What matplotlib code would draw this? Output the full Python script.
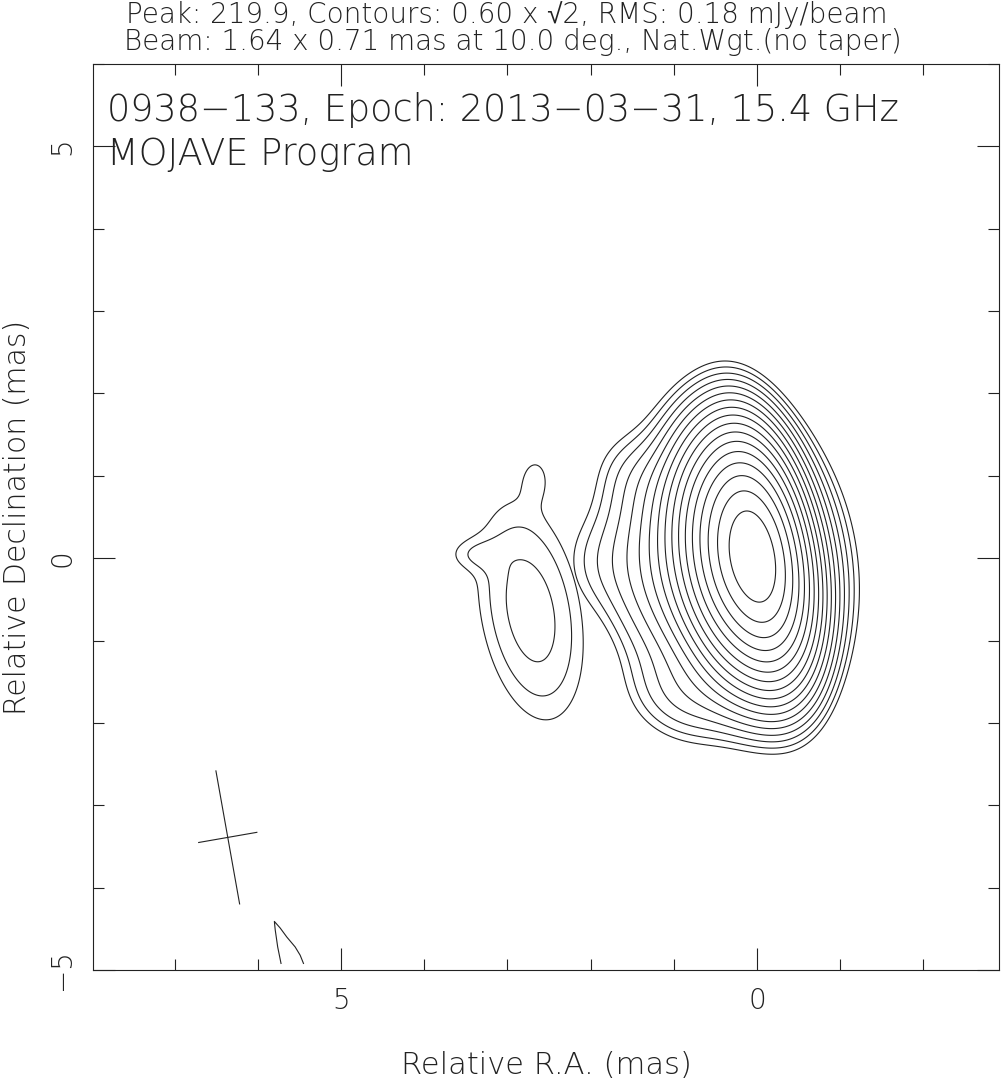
import numpy as np
import matplotlib.pyplot as plt

# core + jet model: elliptical gaussian components (mJy/beam), offsets in mas
core_ra   = [0.00, 0.00, 0.40, 0.95, 1.50, 2.00, 1.45, 0.85]
core_dec  = [0.03, 0.00, -0.05, -0.15, -0.25, -0.10, 1.00, -1.70]
core_peak = [180.0, 10.0, 50.0, 4.5, 1.3, 0.6, 0.5, 1.2]
core_maj  = [0.69, 0.80, 0.72, 0.80, 0.82, 0.45, 0.35, 0.45]
core_min  = [0.29, 0.50, 0.30, 0.32, 0.30, 0.30, 0.30, 0.35]
core_pa   = [10, 10, 10, 10, 10, 10, 40, 70]

# separate knot to the east
knot_ra   = [2.72, 2.65, 3.45]
knot_dec  = [-0.65, 1.00, 0.05]
knot_peak = [1.45, 0.45, 0.45]
knot_maj  = [1.00, 0.22, 0.15]
knot_min  = [0.45, 0.14, 0.25]
knot_pa   = [10, 0, 0]

# contour levels: 0.60 x sqrt(2)^n up to the peak
base_level = 0.60
n_levels = 18

# restoring beam
beam_maj, beam_min, beam_pa = 1.64, 0.71, 10.0
beam_ra, beam_dec = 6.36, -3.39

# stray contour fragment near the bottom edge
arc_ra  = [5.72, 5.76, 5.79, 5.80, 5.73, 5.65, 5.55, 5.49, 5.45]
arc_dec = [-4.92, -4.72, -4.51, -4.41, -4.49, -4.60, -4.72, -4.82, -4.92]

ra = np.linspace(8.2, -3.0, 700)
dec = np.linspace(-5.1, 6.1, 700)
X, Y = np.meshgrid(ra, dec)


def model(cra, cdec, cpk, cmaj, cmin, cpa):
    img = np.zeros_like(X)
    for r0, d0, pk, a, b, pa in zip(cra, cdec, cpk, cmaj, cmin, cpa):
        t = np.radians(pa)
        dx, dy = X - r0, Y - d0
        u = dx * np.sin(t) + dy * np.cos(t)
        v = dx * np.cos(t) - dy * np.sin(t)
        img += pk * np.exp(-0.5 * ((u / a) ** 2 + (v / b) ** 2))
    return img


core_img = model(core_ra, core_dec, core_peak, core_maj, core_min, core_pa)
knot_img = model(knot_ra, knot_dec, knot_peak, knot_maj, knot_min, knot_pa)
levels = base_level * np.sqrt(2) ** np.arange(n_levels)

plt.rcParams['font.family'] = ['DejaVu Sans', 'Liberation Sans']
plt.rcParams['font.weight'] = 'light'
fig = plt.figure(figsize=(10.01, 10.79), dpi=100)
ax = fig.add_axes([0.0929, 0.1010, 0.9051, 0.8397])
ink = '#222222'

ax.contour(X, Y, core_img, levels=levels, colors=ink, linewidths=0.8)
ax.contour(X, Y, knot_img, levels=levels, colors=ink, linewidths=0.8)

# beam cross
t = np.radians(beam_pa)
ax.plot([beam_ra + 0.5 * beam_maj * np.sin(t), beam_ra - 0.5 * beam_maj * np.sin(t)],
        [beam_dec + 0.5 * beam_maj * np.cos(t), beam_dec - 0.5 * beam_maj * np.cos(t)],
        color=ink, lw=0.8)
ax.plot([beam_ra + 0.5 * beam_min * np.cos(t), beam_ra - 0.5 * beam_min * np.cos(t)],
        [beam_dec - 0.5 * beam_min * np.sin(t), beam_dec + 0.5 * beam_min * np.sin(t)],
        color=ink, lw=0.8)
ax.plot(arc_ra, arc_dec, color=ink, lw=0.8)

ax.set_xlim(7.98, -2.91)
ax.set_ylim(-5, 6)
ax.set_xticks([5, 0])
ax.set_yticks([-5, 0, 5])
ax.set_xticks(np.arange(-2, 8), minor=True)
ax.set_yticks(np.arange(-5, 7), minor=True)
ax.tick_params(which='both', direction='in', top=True, right=True, color=ink, width=0.8)
ax.tick_params(which='major', length=16, labelsize=20, pad=12, labelcolor=ink)
ax.tick_params(which='minor', length=8)
ax.set_yticklabels(['\u22125', '0', '5'], rotation=90, va='center')

for sp in ax.spines.values():
    sp.set_linewidth(0.8)
    sp.set_color(ink)

ax.set_xlabel('Relative R.A. (mas)', fontsize=22, color=ink, labelpad=26,
              fontweight='light')
ax.set_ylabel('Relative Declination (mas)', fontsize=21.5, color=ink, labelpad=12,
              fontweight='light')

fig.text(0.506, 0.9865, 'Peak: 219.9, Contours: 0.60 x \u221a2, RMS: 0.18 mJy/beam',
         ha='center', va='center', fontsize=20, color=ink)
fig.text(0.512, 0.961, 'Beam: 1.64 x 0.71 mas at 10.0 deg., Nat.Wgt.(no taper)',
         ha='center', va='center', fontsize=20, color=ink)
ax.text(0.0155, 0.949, '0938\u2212133, Epoch: 2013\u221203\u221231, 15.4 GHz',
        transform=ax.transAxes, fontsize=26.4, color=ink, va='center')
ax.text(0.0155, 0.901, 'MOJAVE Program', transform=ax.transAxes, fontsize=26.4,
        color=ink, va='center')

fig.savefig('out.png', dpi=100)
